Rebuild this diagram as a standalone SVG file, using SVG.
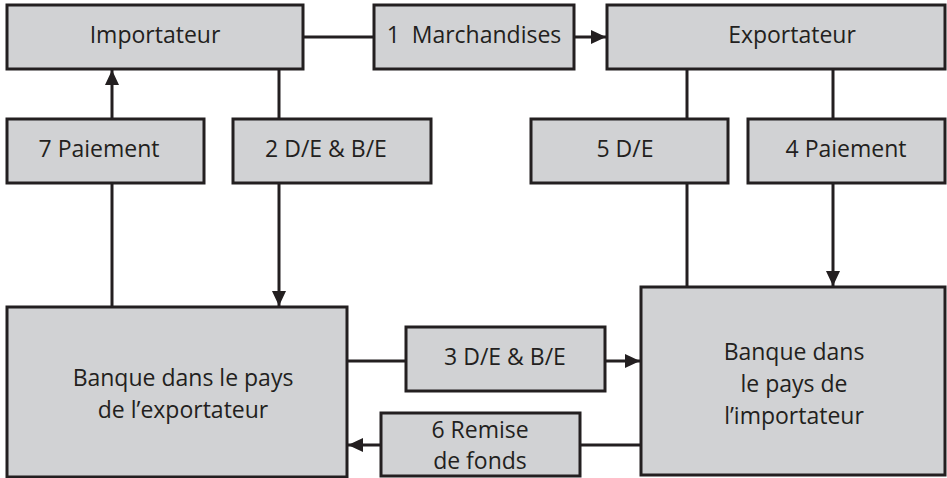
<svg xmlns="http://www.w3.org/2000/svg" width="947" height="478" viewBox="0 0 947 478">
  <style>
    .box { fill: #d1d2d4; stroke: #231f20; stroke-width: 3; }
    .lbl { font-family: "Open Sans", "Liberation Sans", sans-serif; font-size: 23px; fill: #231f20; text-anchor: middle; }
    .wire { stroke: #231f20; stroke-width: 3; fill: none; }
    .arr { marker-end: url(#head); }
  </style>
  <defs>
    <marker id="head" markerUnits="userSpaceOnUse" markerWidth="16" markerHeight="14" refX="15" refY="7" orient="auto">
      <path d="M0,0 L15,7 L0,14 Z" fill="#231f20"/>
    </marker>
  </defs>
  <rect width="947" height="478" fill="#ffffff"/>

  <!-- connectors -->
  <g id="connectors">
    <line class="wire" x1="303" y1="37" x2="374" y2="37"/>
    <line class="wire arr" x1="574" y1="37" x2="606" y2="37"/>
    <line class="wire" x1="279" y1="69" x2="279" y2="119"/>
    <line class="wire arr" x1="279" y1="183" x2="279" y2="306"/>
    <line class="wire" x1="112" y1="307" x2="112" y2="183"/>
    <line class="wire arr" x1="112" y1="119" x2="112" y2="70"/>
    <line class="wire" x1="687" y1="69" x2="687" y2="119"/>
    <line class="wire" x1="687" y1="183" x2="687" y2="287"/>
    <line class="wire" x1="833" y1="69" x2="833" y2="119"/>
    <line class="wire arr" x1="833" y1="183" x2="833" y2="286"/>
    <line class="wire" x1="347" y1="361" x2="406" y2="361"/>
    <line class="wire arr" x1="605" y1="361" x2="640" y2="361"/>
    <line class="wire" x1="641" y1="445" x2="580" y2="445"/>
    <line class="wire arr" x1="381" y1="445" x2="348" y2="445"/>
  </g>

  <g id="importateur">
    <rect class="box" x="7" y="5" width="296" height="64"/>
    <text class="lbl" x="155" y="43">Importateur</text>
  </g>
  <g id="marchandises">
    <rect class="box" x="374" y="5" width="200" height="64"/>
    <text class="lbl" x="474" y="43" xml:space="preserve">1  Marchandises</text>
  </g>
  <g id="exportateur">
    <rect class="box" x="607" y="5" width="338" height="64"/>
    <text class="lbl" x="792" y="43">Exportateur</text>
  </g>
  <g id="paiement7">
    <rect class="box" x="7" y="119" width="197" height="64"/>
    <text class="lbl" x="99" y="157">7 Paiement</text>
  </g>
  <g id="de-be2">
    <rect class="box" x="233" y="119" width="198" height="64"/>
    <text class="lbl" x="326" y="157">2 D/E &amp; B/E</text>
  </g>
  <g id="de5">
    <rect class="box" x="531" y="119" width="197" height="64"/>
    <text class="lbl" x="625" y="157">5 D/E</text>
  </g>
  <g id="paiement4">
    <rect class="box" x="748" y="119" width="197" height="64"/>
    <text class="lbl" x="846" y="157">4 Paiement</text>
  </g>
  <g id="banque-exportateur">
    <rect class="box" x="7" y="307" width="340" height="170"/>
    <text class="lbl" x="183" y="386">Banque dans le pays</text>
    <text class="lbl" x="183" y="418">de l’exportateur</text>
  </g>
  <g id="de-be3">
    <rect class="box" x="406" y="327" width="199" height="64"/>
    <text class="lbl" x="505" y="365">3 D/E &amp; B/E</text>
  </g>
  <g id="remise6">
    <rect class="box" x="381" y="413" width="199" height="63"/>
    <text class="lbl" x="480" y="438">6 Remise</text>
    <text class="lbl" x="480" y="469">de fonds</text>
  </g>
  <g id="banque-importateur">
    <rect class="box" x="641" y="287" width="304" height="188"/>
    <text class="lbl" x="794" y="360">Banque dans</text>
    <text class="lbl" x="794" y="392">le pays de</text>
    <text class="lbl" x="794" y="424">l’importateur</text>
  </g>
</svg>
